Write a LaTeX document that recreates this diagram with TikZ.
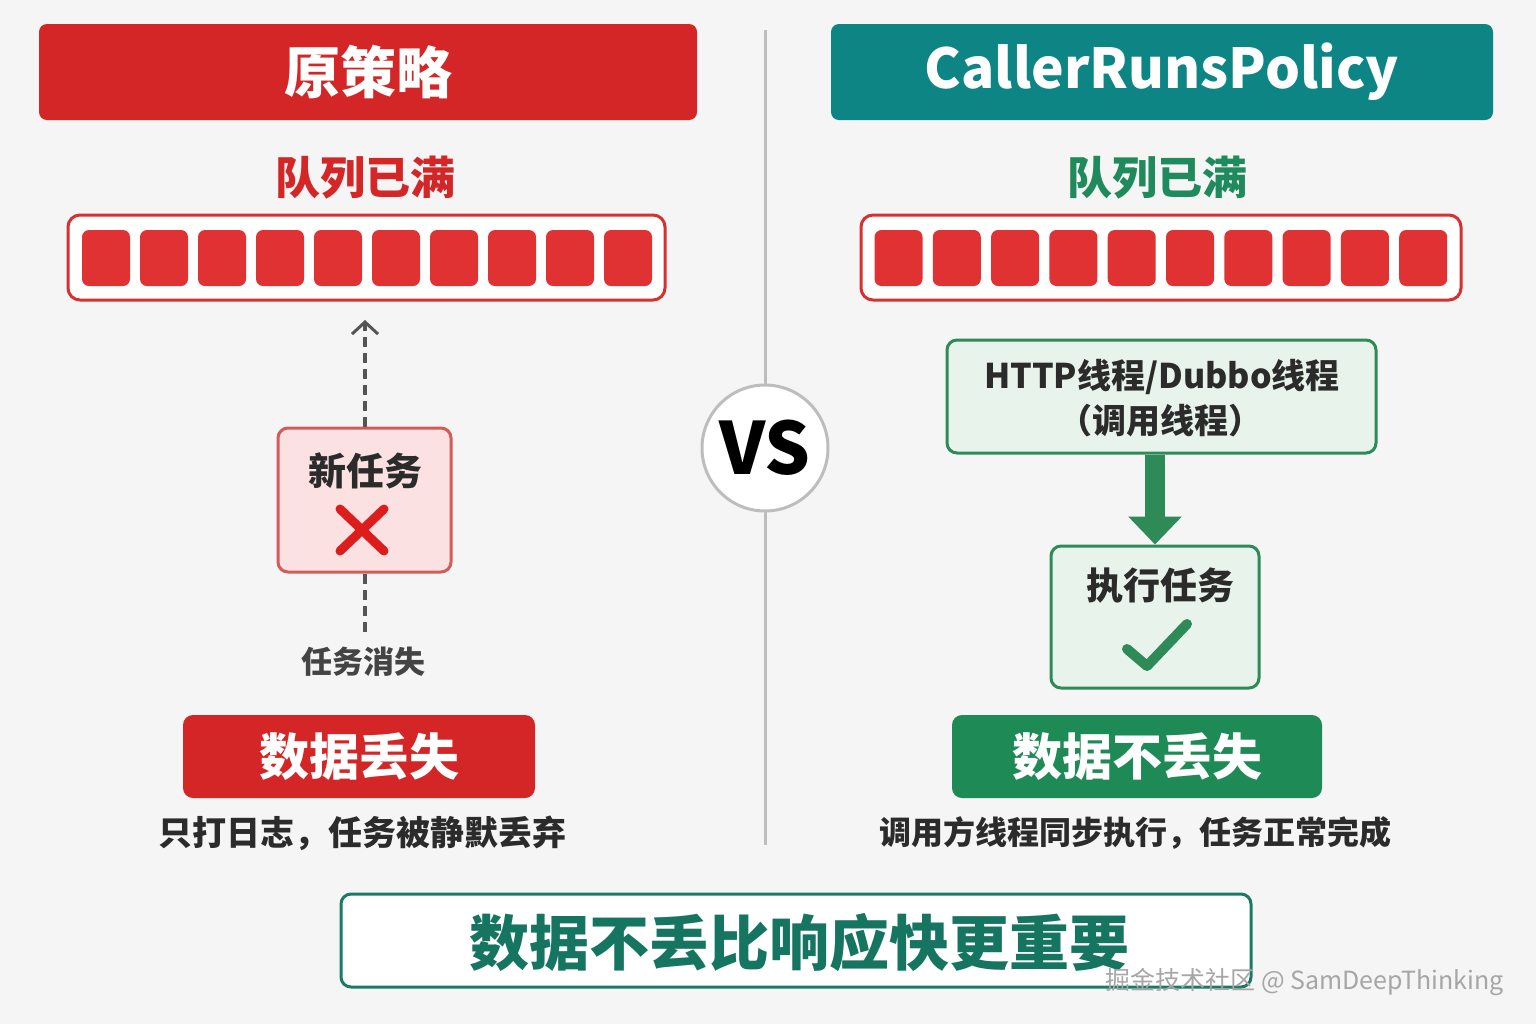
\documentclass[tikz,border=0pt]{standalone}
\usepackage{fontspec}
\setmainfont{Noto Sans CJK SC}
\usetikzlibrary{arrows.meta,calc}
\definecolor{bg}{HTML}{F5F5F5}
\definecolor{hred}{HTML}{D42626}
\definecolor{slotred}{HTML}{E03232}
\definecolor{qred}{HTML}{D63030}
\definecolor{ntfill}{HTML}{FBE1E1}
\definecolor{ntdraw}{HTML}{D55A5A}
\definecolor{xred}{HTML}{DD1C1C}
\definecolor{dark}{HTML}{2B2B2B}
\definecolor{midgray}{HTML}{444444}
\definecolor{teal}{HTML}{0E8585}
\definecolor{gtext}{HTML}{1F8A5B}
\definecolor{gdraw}{HTML}{2E8B57}
\definecolor{gfill}{HTML}{E8F4EB}
\definecolor{gbtn}{HTML}{1E8A55}
\definecolor{bdraw}{HTML}{1A7A64}
\definecolor{btext}{HTML}{157560}
\definecolor{divgray}{HTML}{BDBDBD}
\definecolor{dashgray}{HTML}{555555}
\tikzset{
  header/.style={rounded corners=4pt, inner sep=0pt, text=white, font=\bfseries\fontsize{28}{32}\selectfont},
  queuebox/.style={draw=qred, line width=1.5pt, fill=white, rounded corners=6pt, inner sep=0pt},
  slot/.style={fill=slotred, rounded corners=3.5pt, inner sep=0pt, minimum width=24pt, minimum height=28pt},
  qlabel/.style={font=\bfseries\fontsize{22.5}{26}\selectfont},
  gbox/.style={draw=gdraw, fill=gfill, line width=1.5pt, rounded corners=5pt, inner sep=0pt},
  btn/.style={rounded corners=5pt, inner sep=0pt, text=white, font=\bfseries\fontsize{25}{30}\selectfont},
  note/.style={text=dark, font=\bfseries\fontsize{16}{20}\selectfont},
  dasharrow/.style={draw=dashgray, line width=1.75pt, dash pattern=on 5pt off 3pt}
}
\begin{document}
\begin{tikzpicture}[x=0.5pt,y=-0.5pt]
\fill[bg] (0,0) rectangle (1536,1024);
\useasboundingbox (0,0) rectangle (1536,1024);

% divider
\coordinate (dtop) at (765,30);
\coordinate (dbot) at (765,845);
\draw[divgray, line width=1.5pt] (dtop) -- (dbot);

% headers
\node[header, fill=hred, minimum width=329pt, minimum height=48pt] (lh) at (368,72) {原策略};
\node[header, fill=teal, minimum width=331pt, minimum height=48pt, font=\bfseries\fontsize{27.5}{32}\selectfont] (rh) at (1162,72) {CallerRunsPolicy};

% queue labels
\node[qlabel, text=hred] (lq) at (365,178) {队列已满};
\node[qlabel, text=gtext] (rq) at (1157,178) {队列已满};

% queues
\node[queuebox, minimum width=298.5pt, minimum height=42.5pt] (lqueue) at (366.5,257.5) {};
\foreach \i in {0,...,9} {
  \node[slot] (ls\i) at (106+58*\i,258) {};
}
\node[queuebox, minimum width=300pt, minimum height=42.5pt] (rqueue) at (1161,257.5) {};
\foreach \i in {0,...,9} {
  \node[slot] (rs\i) at (898.5+58.3*\i,258) {};
}

% new task box
\node[draw=ntdraw, fill=ntfill, line width=1.5pt, rounded corners=5pt, minimum width=86.5pt, minimum height=72pt, inner sep=0pt] (nt) at (364.5,500) {};
\node[text=dark, font=\bfseries\fontsize{19}{22}\selectfont] (nttext) at (365,471) {新任务};
\coordinate (xc) at (362,530);
\draw[xred, line width=4.5pt, line cap=round] ($(xc)+(-22,-21)$) -- ($(xc)+(22,21)$);
\draw[xred, line width=4.5pt, line cap=round] ($(xc)+(22,-21)$) -- ($(xc)+(-22,21)$);

\coordinate (arrtip) at (365,320);
\coordinate (dashend) at (365,632);
\draw[dasharrow, -{Straight Barb[length=6pt,width=13pt,line width=1.5pt]}] (nt.north -| arrtip) -- (arrtip);
\draw[dasharrow] (nt.south -| dashend) -- (dashend);
\node[text=midgray, font=\bfseries\fontsize{15.5}{18}\selectfont] (lost) at (363,662) {任务消失};

% left result
\node[btn, fill=hred, minimum width=176pt, minimum height=41.5pt] (lbtn) at (359,756.5) {数据丢失};
\node[note, font=\bfseries\fontsize{17}{20}\selectfont] (lnote) at (362,833) {只打日志，任务被静默丢弃};

% right side
\node[gbox, minimum width=214.5pt, minimum height=56.5pt] (http) at (1161.5,396.5) {};
\node[text=dark, font=\bfseries\fontsize{17}{20}\selectfont] (httpt1) at (1162,377) {HTTP线程/Dubbo线程};
\node[text=dark, font=\bfseries\fontsize{17}{20}\selectfont] (httpt2) at (1160,421) {（调用线程）};

\node[gbox, minimum width=104pt, minimum height=71pt] (exec) at (1155,617) {};
\node[text=dark, font=\bfseries\fontsize{18.5}{22}\selectfont] (exect) at (1160,586) {执行任务};
\draw[gdraw, line width=10pt, -{Triangle[width=26pt,length=14pt]}] (http.south -| exec.north) -- (exec.north);
\coordinate (ck) at (1147,666);
\draw[gdraw, line width=5pt, line cap=round, line join=round] ($(ck)+(-20,-17)$) -- (ck) -- ($(ck)+(40,-42)$);

\node[btn, fill=gbtn, minimum width=185pt, minimum height=41.5pt] (rbtn) at (1137,756.5) {数据不丢失};
\node[note] (rnote) at (1135,833) {调用方线程同步执行，任务正常完成};

% VS circle
\node[circle, draw=divgray, line width=1.5pt, fill=white, minimum size=63pt, inner sep=0pt, font=\bfseries\fontsize{36}{40}\selectfont, text=black] (vs) at (765,448) {VS};

% bottom box
\node[draw=bdraw, fill=white, line width=1.5pt, rounded corners=5pt, minimum width=455pt, minimum height=46.5pt, inner sep=0pt] (bot) at (796,940.5) {};
\node[text=btext, font=\bfseries\fontsize{30}{34}\selectfont] (bott) at (799,943) {数据不丢比响应快更重要};

% watermark
\node[text=gray!70, font=\fontsize{12.5}{15}\selectfont, anchor=west, inner sep=0pt] (wm) at (1105,982) {掘金技术社区 @ SamDeepThinking};
\end{tikzpicture}
\end{document}
